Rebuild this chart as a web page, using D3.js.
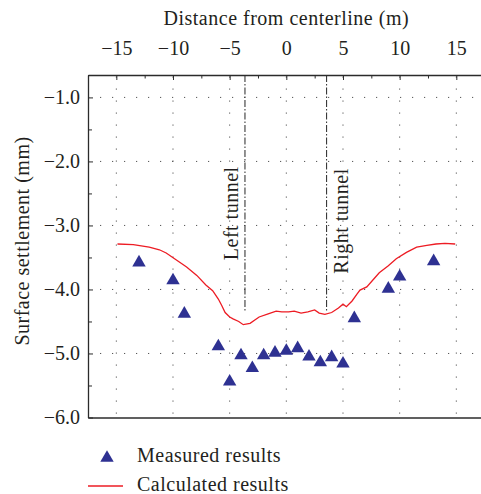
<!DOCTYPE html>
<html>
<head>
<meta charset="utf-8">
<script src="https://cdn.jsdelivr.net/npm/d3@7"></script>
<style>
  html, body { margin: 0; padding: 0; background: #fff; }
  svg { display: block; }
  text { font-family: "Liberation Serif", "Times New Roman", serif; fill: #231f20; }
</style>
</head>
<body>
<svg id="chart" width="481" height="494"></svg>
<script>
// Measured surface settlement (mm) against distance from the centreline (m)
const measuredX = [-13, -10, -9, -6, -5, -4, -3, -2, -1, 0, 1, 2, 3, 4, 5, 6, 9, 10, 13];
const measuredY = [-3.58, -3.86, -4.38, -4.89, -5.44, -5.03, -5.23, -5.03, -4.99, -4.96,
                   -4.92, -5.05, -5.14, -5.06, -5.16, -4.45, -3.99, -3.80, -3.56];

// Calculated settlement trough
const calcX = [-14.9, -13.5, -12.8, -12.1, -11.2, -10.6, -9.7, -8.8, -7.9, -7.1, -6.5, -6.0,
               -5.7, -5.4, -5.0, -4.7, -4.2, -3.8, -3.2, -2.4, -1.6, -0.9, -0.4, 0.2, 0.7,
               1.3, 1.9, 2.5, 2.9, 3.4, 4.0, 4.6, 5.0, 5.3, 5.8, 6.2, 6.5, 7.1, 7.6, 8.2,
               9.0, 9.7, 10.6, 11.5, 12.4, 13.2, 14.0, 14.9];
const calcY = [-3.29, -3.30, -3.32, -3.34, -3.38, -3.43, -3.54, -3.65, -3.78, -3.93, -4.02, -4.15,
               -4.25, -4.36, -4.43, -4.46, -4.50, -4.55, -4.53, -4.43, -4.38, -4.34, -4.35, -4.35, -4.34,
               -4.37, -4.35, -4.32, -4.37, -4.39, -4.36, -4.29, -4.23, -4.27, -4.18, -4.08, -4.01, -3.96, -3.86, -3.74,
               -3.63, -3.52, -3.42, -3.34, -3.31, -3.29, -3.28, -3.29];

// Tunnel axes
const tunnelNames = ["Left tunnel", "Right tunnel"];
const tunnelX = [-3.65, 3.55];
const tunnelBottom = -4.36;

const xTicks = [-15, -10, -5, 0, 5, 10, 15];
const xMinorTicks = [-17.5, -12.5, -7.5, -2.5, 2.5, 7.5, 12.5, 17.5];
const yTicks = [-1.0, -2.0, -3.0, -4.0, -5.0, -6.0];
const yMinorTicks = [-1.5, -2.5, -3.5, -4.5, -5.5];

const xTitle = "Distance from centerline (m)";
const yTitle = "Surface settlement (mm)";
const legendLabels = ["Measured results", "Calculated results"];

const navy = "#2e3192";
const red = "#ed1c24";
const axisColor = "#2b2b2b";
const fontSize = 20;
const spacing = 0.5;

const svg = d3.select("#chart");
const plotLeft = 88, plotTop = 75, plotBottom = 417.5;

const x = d3.scaleLinear().domain([-17.5, 17.7]).range([plotLeft, plotLeft + 35.2 * 11.333]);
const y = d3.scaleLinear().domain([-6, -0.65]).range([plotBottom, plotTop]);

const fmtX = d3.format("d");
const fmtY = d3.format(".1f");

// Dotted grid
const grid = svg.append("g").attr("stroke", "#555").attr("stroke-width", 1)
  .attr("stroke-dasharray", "1.2,10.8");
grid.selectAll("line.v").data(xTicks).join("line")
  .attr("class", "v")
  .attr("x1", d => x(d)).attr("x2", d => x(d))
  .attr("y1", plotTop).attr("y2", plotBottom)
  .attr("stroke-dashoffset", -1.5);
grid.selectAll("line.h").data(yTicks.filter(d => d > -6)).join("line")
  .attr("class", "h")
  .attr("x1", plotLeft).attr("x2", 481)
  .attr("y1", d => y(d)).attr("y2", d => y(d))
  .attr("stroke-dashoffset", -12);

// Tunnel centre lines
const tunnels = svg.append("g");
tunnels.selectAll("line").data(tunnelX).join("line")
  .attr("x1", d => x(d)).attr("x2", d => x(d))
  .attr("y1", plotTop).attr("y2", y(tunnelBottom))
  .attr("stroke", "#3a3a3a").attr("stroke-width", 1.1)
  .attr("stroke-dasharray", "7,2,1.5,2");

const tunnelLabelPos = [
  { dx: -6.5, cy: -2.81 },
  { dx: 21.5, cy: -2.93 }
];
tunnels.selectAll("text").data(tunnelNames).join("text")
  .attr("transform", (d, i) => `translate(${x(tunnelX[i]) + tunnelLabelPos[i].dx},${y(tunnelLabelPos[i].cy)}) rotate(-90)`)
  .attr("text-anchor", "middle")
  .attr("font-size", fontSize)
  .attr("letter-spacing", spacing)
  .text(d => d);

// Calculated curve
const line = d3.line().x(d => x(d[0])).y(d => y(d[1]));
svg.append("path")
  .datum(calcX.map((v, i) => [v, calcY[i]]))
  .attr("d", line)
  .attr("fill", "none")
  .attr("stroke", red)
  .attr("stroke-width", 1.3);

// Measured points
const tri = d3.symbol().type(d3.symbolTriangle).size(78);
svg.append("g").selectAll("path").data(measuredX.map((v, i) => [v, measuredY[i]])).join("path")
  .attr("transform", d => `translate(${x(d[0])},${y(d[1])})`)
  .attr("d", tri)
  .attr("fill", navy);

// Axes: top with labels, left with labels, bottom frame line
svg.append("g").attr("transform", `translate(0,${plotTop})`)
  .call(d3.axisTop(x).tickValues(xTicks).tickFormat(fmtX).tickSize(-5).tickSizeOuter(0).tickPadding(20));
svg.append("g").attr("transform", `translate(0,${plotTop})`)
  .call(d3.axisTop(x).tickValues(xMinorTicks).tickFormat("").tickSize(-3.5).tickSizeOuter(0))
  .select(".domain").remove();

svg.append("g").attr("transform", `translate(${plotLeft},0)`)
  .call(d3.axisLeft(y).tickValues(yTicks).tickFormat(fmtY).tickSize(-5).tickSizeOuter(0).tickPadding(8));
svg.append("g").attr("transform", `translate(${plotLeft},0)`)
  .call(d3.axisLeft(y).tickValues(yMinorTicks).tickFormat("").tickSize(-4).tickSizeOuter(0))
  .select(".domain").remove();

svg.append("g").attr("transform", `translate(0,${plotBottom})`)
  .call(d3.axisBottom(x).tickValues([]).tickSizeOuter(0));

svg.selectAll(".domain").attr("stroke", axisColor).attr("stroke-width", 1.3);
svg.selectAll(".tick line").attr("stroke", axisColor).attr("stroke-width", 1);
svg.selectAll(".tick text")
  .attr("font-family", "Liberation Serif, serif")
  .attr("font-size", fontSize)
  .attr("fill", "#231f20");

// Axis titles
svg.append("text")
  .attr("x", x(0)).attr("y", 25)
  .attr("text-anchor", "middle")
  .attr("font-size", fontSize)
  .attr("letter-spacing", spacing)
  .text(xTitle);

svg.append("text")
  .attr("transform", `translate(29,241) rotate(-90)`)
  .attr("text-anchor", "middle")
  .attr("font-size", fontSize)
  .attr("letter-spacing", spacing)
  .text(yTitle);

// Legend
const legend = svg.append("g");
legend.append("path")
  .attr("transform", "translate(107,458)")
  .attr("d", tri)
  .attr("fill", navy);
legend.append("line")
  .attr("x1", 88).attr("x2", 123)
  .attr("y1", 486).attr("y2", 486)
  .attr("stroke", red).attr("stroke-width", 1.3);
legend.selectAll("text").data(legendLabels).join("text")
  .attr("x", 137)
  .attr("y", (d, i) => 462 + i * 28.5)
  .attr("font-size", fontSize)
  .attr("letter-spacing", spacing)
  .text(d => d);
</script>
</body>
</html>
